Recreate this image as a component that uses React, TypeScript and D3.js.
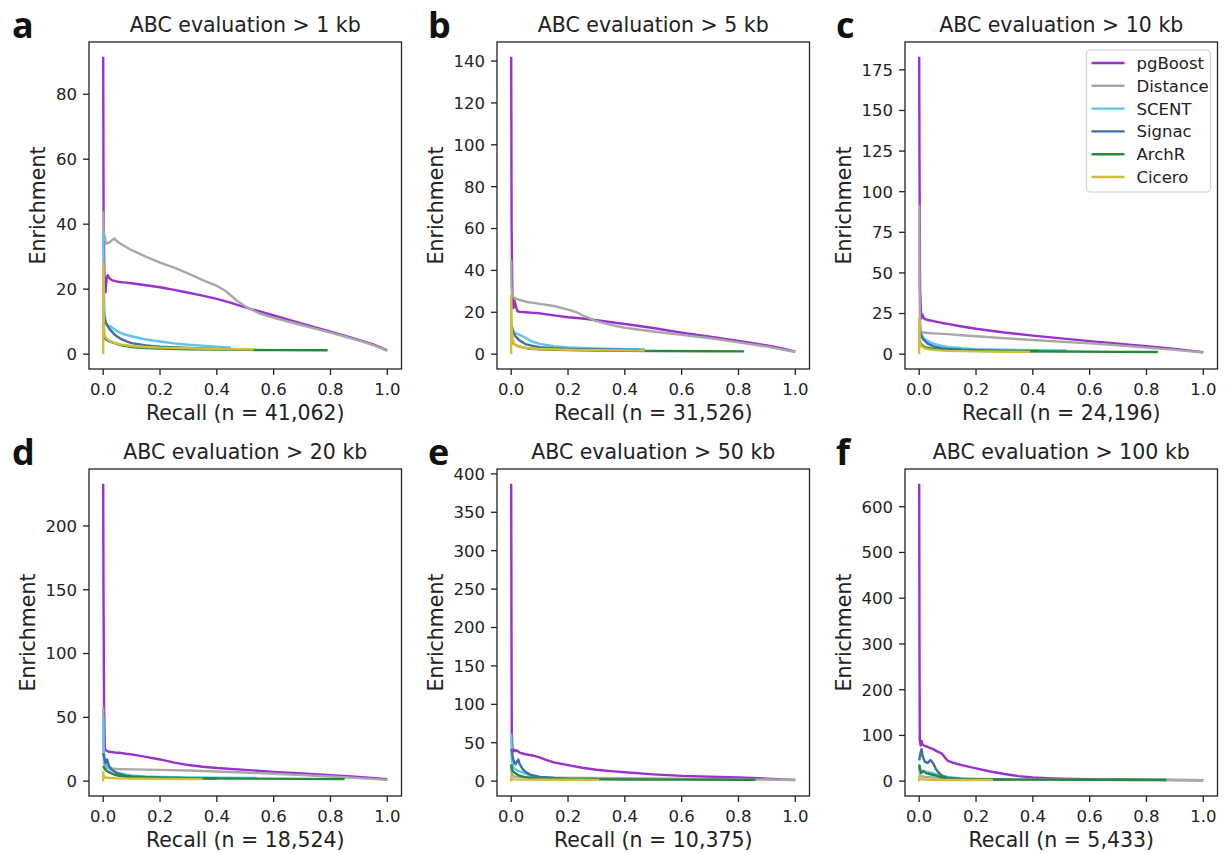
import React from 'react';
import * as d3 from 'd3';

type Pt = [number, number];

// ---------- categories / labels ----------
const methods = ['pgBoost', 'Distance', 'SCENT', 'Signac', 'ArchR', 'Cicero'];
const methodColors = ['#9a30d0', '#a8a8a8', '#5cc6ee', '#3f6fa7', '#25893a', '#d3bd3f'];
const panelLetters = ['a', 'b', 'c', 'd', 'e', 'f'];
const panelTitles = [
  'ABC evaluation > 1 kb',
  'ABC evaluation > 5 kb',
  'ABC evaluation > 10 kb',
  'ABC evaluation > 20 kb',
  'ABC evaluation > 50 kb',
  'ABC evaluation > 100 kb',
];
const recallLabels = [
  'Recall (n = 41,062)',
  'Recall (n = 31,526)',
  'Recall (n = 24,196)',
  'Recall (n = 18,524)',
  'Recall (n = 10,375)',
  'Recall (n = 5,433)',
];
const xTicks = [0, 0.2, 0.4, 0.6, 0.8, 1.0];
const yTicksA = [0, 20, 40, 60, 80];
const yTicksB = [0, 20, 40, 60, 80, 100, 120, 140];
const yTicksC = [0, 25, 50, 75, 100, 125, 150, 175];
const yTicksD = [0, 50, 100, 150, 200];
const yTicksE = [0, 50, 100, 150, 200, 250, 300, 350, 400];
const yTicksF = [0, 100, 200, 300, 400, 500, 600];

// ---------- panel a (> 1 kb) ----------
const pgBoostA: Pt[] = [[0,91.5],[0.0015,40],[0.004,25],[0.008,19],[0.012,23.5],[0.016,24.3],[0.02,23.5],[0.03,22.8],[0.05,22.3],[0.08,22],[0.1,21.8],[0.15,21.2],[0.2,20.6],[0.25,19.8],[0.3,18.9],[0.35,18],[0.4,17],[0.45,15.8],[0.5,14.4],[0.6,11.9],[0.7,9.4],[0.8,6.9],[0.9,4.4],[0.95,3],[1.0,1.2]];
const distanceA: Pt[] = [[0,44],[0.001,37.5],[0.004,37],[0.01,34],[0.02,34.3],[0.03,35],[0.04,35.6],[0.05,34.6],[0.07,33.5],[0.1,32],[0.15,30],[0.2,28.2],[0.25,26.6],[0.3,24.8],[0.35,22.8],[0.4,21],[0.43,19.5],[0.47,16.5],[0.5,14.7],[0.55,12.5],[0.6,11.2],[0.7,8.9],[0.8,6.6],[0.9,4.2],[0.95,2.8],[1.0,1]];
const scentA: Pt[] = [[0,37],[0.002,20],[0.005,12],[0.01,9.5],[0.02,8.7],[0.03,8.3],[0.05,7],[0.07,6.2],[0.1,5.5],[0.15,4.5],[0.2,3.9],[0.25,3.3],[0.3,2.9],[0.4,2.3],[0.45,2]];
const signacA: Pt[] = [[0,14],[0.003,12],[0.006,10.5],[0.01,9.5],[0.02,8],[0.04,6],[0.06,4.8],[0.08,4],[0.1,3.4],[0.15,2.7],[0.2,2.3],[0.3,1.9],[0.4,1.6],[0.48,1.5]];
const archrA: Pt[] = [[0,6],[0.005,5],[0.01,4.5],[0.02,4],[0.04,3.4],[0.06,2.8],[0.1,2.2],[0.15,1.9],[0.2,1.7],[0.3,1.5],[0.4,1.4],[0.5,1.3],[0.6,1.25],[0.79,1.2]];
const ciceroA: Pt[] = [[0,0],[0,28],[0.002,10],[0.005,6],[0.01,5],[0.02,4.2],[0.04,3.5],[0.06,3],[0.1,2.5],[0.15,2.2],[0.2,2],[0.3,1.8],[0.4,1.6],[0.53,1.5]];

// ---------- panel b (> 5 kb) ----------
const pgBoostB: Pt[] = [[0,142],[0.0015,60],[0.004,30],[0.008,22],[0.012,25.5],[0.016,23],[0.022,20.5],[0.03,20.2],[0.05,20],[0.08,19.7],[0.1,19.5],[0.15,18.5],[0.2,17.6],[0.25,17],[0.3,16.2],[0.4,14.4],[0.5,12.5],[0.6,10.2],[0.7,8.3],[0.8,6.3],[0.9,4.1],[0.95,2.8],[1.0,1.2]];
const distanceB: Pt[] = [[0,45],[0.001,32],[0.004,28],[0.01,27],[0.02,26.3],[0.04,25.5],[0.06,24.8],[0.08,24.5],[0.1,24],[0.15,23],[0.2,21.3],[0.23,20],[0.26,18],[0.29,16.3],[0.3,15.8],[0.35,14],[0.4,12.6],[0.5,10.8],[0.6,9.2],[0.7,7.6],[0.8,5.6],[0.9,3.6],[1.0,1]];
const scentB: Pt[] = [[0,16],[0.003,13],[0.008,11],[0.015,10],[0.03,9.2],[0.05,7.8],[0.07,6.2],[0.1,4.9],[0.15,3.8],[0.2,3.2],[0.3,2.7],[0.4,2.4],[0.47,2.3]];
const signacB: Pt[] = [[0,14],[0.004,12],[0.008,10],[0.015,8.5],[0.03,6.5],[0.05,4.8],[0.08,3.8],[0.1,3.3],[0.15,2.8],[0.2,2.5],[0.3,2.2],[0.45,2]];
const archrB: Pt[] = [[0,7],[0.005,5.5],[0.01,4.8],[0.02,4],[0.04,3.2],[0.06,2.7],[0.1,2.3],[0.2,1.9],[0.3,1.7],[0.5,1.5],[0.7,1.35],[0.82,1.3]];
const ciceroB: Pt[] = [[0,0],[0,28],[0.002,12],[0.005,7],[0.01,5],[0.02,4],[0.04,3.2],[0.07,2.7],[0.1,2.5],[0.2,2.1],[0.3,1.9],[0.47,1.7]];

// ---------- panel c (> 10 kb) ----------
const pgBoostC: Pt[] = [[0,183],[0.001,120],[0.003,40],[0.007,22],[0.011,24.5],[0.015,22.5],[0.02,21.5],[0.03,21],[0.05,20.3],[0.08,19.2],[0.1,18.6],[0.15,17],[0.2,15.6],[0.3,13.3],[0.4,11.4],[0.5,9.7],[0.6,8],[0.7,6.5],[0.8,4.9],[0.9,3.2],[1.0,1.2]];
const distanceC: Pt[] = [[0,92],[0.001,40],[0.003,20],[0.006,14.5],[0.01,13.5],[0.03,13],[0.05,12.8],[0.1,12.3],[0.15,11.6],[0.2,11],[0.3,9.8],[0.4,8.7],[0.5,7.6],[0.6,6.6],[0.7,5.4],[0.8,4],[0.9,2.6],[1.0,1]];
const scentC: Pt[] = [[0,20],[0.003,15],[0.008,12],[0.015,10],[0.03,8],[0.05,6.5],[0.08,5],[0.1,4.5],[0.15,3.6],[0.2,3.1],[0.3,2.7],[0.4,2.5],[0.52,2.3]];
const signacC: Pt[] = [[0,16],[0.004,13],[0.008,11],[0.015,9],[0.03,6.5],[0.05,4.8],[0.08,3.6],[0.1,3.2],[0.15,2.7],[0.2,2.4],[0.3,2.1],[0.42,1.9]];
const archrC: Pt[] = [[0,9],[0.004,7],[0.01,5.5],[0.02,4.3],[0.04,3.5],[0.06,3],[0.1,2.5],[0.2,2],[0.3,1.8],[0.5,1.6],[0.7,1.4],[0.84,1.3]];
const ciceroC: Pt[] = [[0,0],[0,22],[0.002,10],[0.005,6],[0.01,4.5],[0.02,3.5],[0.04,2.8],[0.07,2.3],[0.1,2],[0.2,1.7],[0.3,1.5],[0.39,1.4]];

// ---------- panel d (> 20 kb) ----------
const pgBoostD: Pt[] = [[0,233],[0.001,150],[0.003,60],[0.006,25],[0.01,24],[0.015,23.5],[0.02,23],[0.04,22.5],[0.06,22.2],[0.08,21.5],[0.1,21],[0.15,19],[0.2,17],[0.25,14.5],[0.3,12.6],[0.35,11.3],[0.4,10.3],[0.5,8.8],[0.6,7.3],[0.7,6],[0.8,4.6],[0.9,3.2],[1.0,1.5]];
const distanceD: Pt[] = [[0,58],[0.001,25],[0.003,14],[0.008,11],[0.02,10],[0.05,9.5],[0.1,9.2],[0.2,8.8],[0.3,8.3],[0.4,7.6],[0.5,6.8],[0.6,5.8],[0.7,4.7],[0.8,3.6],[0.9,2.4],[1.0,1]];
const scentD: Pt[] = [[0,50],[0.002,25],[0.006,15],[0.012,12],[0.02,10],[0.04,7.5],[0.06,6],[0.08,5],[0.1,4.4],[0.15,3.7],[0.2,3.3],[0.3,2.9],[0.4,2.6],[0.54,2.4]];
const signacD: Pt[] = [[0,22],[0.004,18],[0.008,14],[0.014,17],[0.02,12],[0.03,9],[0.05,6],[0.08,4.2],[0.1,3.6],[0.15,3],[0.2,2.6],[0.3,2.3],[0.4,2.1]];
const archrD: Pt[] = [[0,12],[0.004,10],[0.01,8.5],[0.02,7],[0.04,5],[0.06,4],[0.1,3.2],[0.2,2.6],[0.3,2.3],[0.5,2],[0.7,1.8],[0.85,1.6]];
const ciceroD: Pt[] = [[0,0],[0,7],[0.002,4],[0.005,3],[0.01,2.6],[0.05,2.2],[0.1,2],[0.2,1.8],[0.35,1.6]];

// ---------- panel e (> 50 kb) ----------
const pgBoostE: Pt[] = [[0,387],[0.001,200],[0.002,62],[0.005,38],[0.01,41],[0.015,39],[0.02,40],[0.03,37],[0.05,35],[0.08,33],[0.1,31],[0.12,28],[0.15,24.5],[0.2,20.8],[0.25,17.5],[0.3,14.8],[0.35,13],[0.4,11.5],[0.5,8.8],[0.6,6.8],[0.7,5.8],[0.8,4.9],[0.9,3.2],[1.0,1.5]];
const distanceE: Pt[] = [[0,20],[0.002,8],[0.01,6],[0.05,5],[0.1,4.6],[0.3,4],[0.5,3.4],[0.7,2.8],[0.85,2.2],[1.0,1.5]];
const scentE: Pt[] = [[0,62],[0.002,30],[0.006,20],[0.01,17],[0.02,14],[0.04,11],[0.06,8],[0.08,6.5],[0.1,5.5],[0.15,4.3],[0.2,3.8],[0.3,3.3]];
const signacE: Pt[] = [[0,42],[0.003,38],[0.006,30],[0.01,25],[0.015,22],[0.02,25],[0.025,28],[0.03,22],[0.04,16],[0.05,12],[0.07,8],[0.1,5.5],[0.15,4],[0.2,3.3],[0.3,2.8]];
const archrE: Pt[] = [[0,22],[0.003,15],[0.008,12],[0.015,10],[0.03,7],[0.05,5],[0.08,3.8],[0.1,3.2],[0.2,2.6],[0.4,2.2],[0.6,2],[0.86,1.8]];
const ciceroE: Pt[] = [[0,0],[0,6],[0.003,3],[0.01,2.3],[0.05,2],[0.15,1.8],[0.31,1.6]];

// ---------- panel f (> 100 kb) ----------
const pgBoostF: Pt[] = [[0,650],[0.001,300],[0.002,90],[0.005,78],[0.008,88],[0.012,80],[0.02,77],[0.03,75],[0.04,72],[0.05,70],[0.06,66],[0.07,63],[0.08,60],[0.09,52],[0.1,45],[0.12,40],[0.15,35],[0.2,28],[0.25,21],[0.3,15.5],[0.35,11],[0.4,8],[0.45,6.5],[0.5,5.5],[0.6,4.5],[0.7,3.8],[0.8,3.2],[0.9,2.6],[1.0,2]];
const distanceF: Pt[] = [[0,30],[0.003,12],[0.02,9],[0.1,6],[0.3,4],[0.6,3],[0.87,2.4],[1.0,2]];
const scentF: Pt[] = [[0,38],[0.004,25],[0.01,22],[0.03,20],[0.05,17],[0.08,12],[0.1,9],[0.15,6],[0.2,4.5],[0.25,3.8],[0.3,3.5]];
const signacF: Pt[] = [[0,45],[0.004,60],[0.008,70],[0.012,55],[0.02,42],[0.03,40],[0.04,46],[0.05,38],[0.06,25],[0.07,18],[0.08,12],[0.1,7],[0.15,5],[0.2,4],[0.3,3.2]];
const archrF: Pt[] = [[0,35],[0.003,25],[0.008,18],[0.015,22],[0.025,17],[0.04,15],[0.06,12],[0.08,8],[0.1,6],[0.15,4.5],[0.2,3.8],[0.4,3.2],[0.6,2.9],[0.87,2.6]];
const ciceroF: Pt[] = [[0,0],[0,10],[0.003,6],[0.01,4],[0.03,3],[0.1,2.6],[0.26,2.4]];

const panelSeries: Pt[][][] = [
  [pgBoostA, distanceA, scentA, signacA, archrA, ciceroA],
  [pgBoostB, distanceB, scentB, signacB, archrB, ciceroB],
  [pgBoostC, distanceC, scentC, signacC, archrC, ciceroC],
  [pgBoostD, distanceD, scentD, signacD, archrD, ciceroD],
  [pgBoostE, distanceE, scentE, signacE, archrE, ciceroE],
  [pgBoostF, distanceF, scentF, signacF, archrF, ciceroF],
];
const panelYTicks = [yTicksA, yTicksB, yTicksC, yTicksD, yTicksE, yTicksF];

// ---------- layout ----------
const W = 1225;
const H = 853;
const COLS = [89, 497, 905];
const AX_W = 312.5;
const ROWS = [42, 469];
const AX_H = 327;
const FONT = "'DejaVu Sans', sans-serif";
const TICK_FS = 16.5;
const LABEL_FS = 20.5;
const TICK_LEN = 6;
const LINE_W = 2.4;

function Panel({ idx }: { idx: number }) {
  const left = COLS[idx % 3];
  const top = ROWS[Math.floor(idx / 3)];
  const right = left + AX_W;
  const bottom = top + AX_H;
  const series = panelSeries[idx];
  const yMax = d3.max(series.flat(), (d) => d[1]) as number;
  const x = d3.scaleLinear().domain([-0.05, 1.05]).range([left, right]);
  const y = d3.scaleLinear().domain([-0.05 * yMax, 1.05 * yMax]).range([bottom, top]);
  const line = d3.line<Pt>().x((d) => x(d[0])).y((d) => y(d[1]));
  const yTicks = panelYTicks[idx];
  const threeDigit = d3.max(yTicks)! >= 100;
  const yLabelX = left - (threeDigit ? 54 : 44);
  const clipId = `clip-${idx}`;
  const fmtX = d3.format('.1f');
  return (
    <g>
      <defs>
        <clipPath id={clipId}>
          <rect x={left} y={top} width={AX_W} height={AX_H} />
        </clipPath>
      </defs>
      <g clipPath={`url(#${clipId})`}>
        {series.map((s, i) => (
          <path
            key={methods[i]}
            d={line(s) || ''}
            fill="none"
            stroke={methodColors[i]}
            strokeWidth={LINE_W}
            strokeLinejoin="round"
            strokeLinecap="butt"
          />
        ))}
      </g>
      <rect x={left} y={top} width={AX_W} height={AX_H} fill="none" stroke="#222" strokeWidth={1.3} />
      {xTicks.map((t) => (
        <g key={'x' + t}>
          <line x1={x(t)} x2={x(t)} y1={bottom} y2={bottom + TICK_LEN} stroke="#222" strokeWidth={1.3} />
          <text x={x(t)} y={bottom + 26} textAnchor="middle" fontSize={TICK_FS} fontFamily={FONT} fill="#222">
            {fmtX(t)}
          </text>
        </g>
      ))}
      {yTicks.map((t) => (
        <g key={'y' + t}>
          <line x1={left - TICK_LEN} x2={left} y1={y(t)} y2={y(t)} stroke="#222" strokeWidth={1.3} />
          <text x={left - 12} y={y(t)} dy="0.36em" textAnchor="end" fontSize={TICK_FS} fontFamily={FONT} fill="#222">
            {t}
          </text>
        </g>
      ))}
      <text x={(left + right) / 2} y={top - 10} textAnchor="middle" fontSize={LABEL_FS} fontFamily={FONT} fill="#222">
        {panelTitles[idx]}
      </text>
      <text x={(left + right) / 2} y={bottom + 51} textAnchor="middle" fontSize={LABEL_FS} fontFamily={FONT} fill="#222">
        {recallLabels[idx]}
      </text>
      <text
        transform={`translate(${yLabelX},${(top + bottom) / 2}) rotate(-90)`}
        textAnchor="middle"
        fontSize={LABEL_FS}
        fontFamily={FONT}
        fill="#222"
      >
        Enrichment
      </text>
      <text
        x={left - 77 + (idx % 3 === 0 ? 0 : 8)}
        y={top - 4}
        fontSize={36}
        fontWeight={700}
        fontFamily="'Open Sans', sans-serif"
        fill="#111"
      >
        {panelLetters[idx]}
      </text>
      {idx === 2 && <Legend right={right} top={top} />}
    </g>
  );
}

function Legend({ right, top }: { right: number; top: number }) {
  const bx = right - 131;
  const by = top + 8;
  const rowH = 22.8;
  return (
    <g>
      <rect x={bx} y={by} width={124} height={142} rx={4} fill="#fff" fillOpacity={0.85} stroke="#d0d0d0" strokeWidth={1.2} />
      {methods.map((m, i) => {
        const cy = by + 13 + i * rowH;
        return (
          <g key={m}>
            <line x1={bx + 5} x2={bx + 38} y1={cy} y2={cy} stroke={methodColors[i]} strokeWidth={LINE_W} />
            <text x={bx + 50} y={cy} dy="0.36em" fontSize={TICK_FS} fontFamily={FONT} fill="#222">
              {m}
            </text>
          </g>
        );
      })}
    </g>
  );
}

export default function App() {
  return (
    <svg
      width={W}
      height={H}
      viewBox={`0 0 ${W} ${H}`}
      style={{ position: 'absolute', left: 0, top: 0, background: '#fff' }}
    >
      <rect x={0} y={0} width={W} height={H} fill="#fff" />
      {panelLetters.map((_, i) => (
        <Panel key={i} idx={i} />
      ))}
    </svg>
  );
}
